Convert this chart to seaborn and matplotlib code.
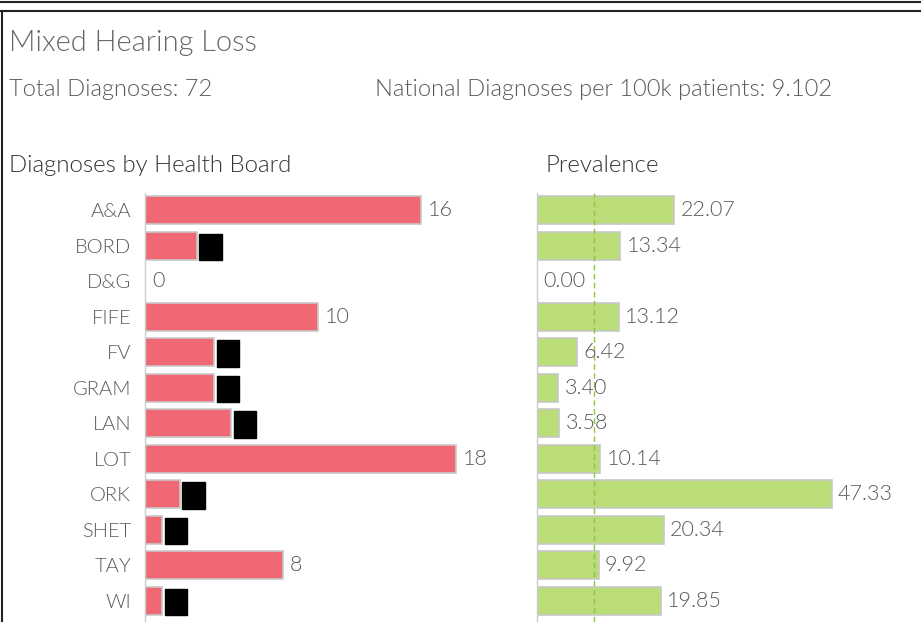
import pandas as pd
import seaborn as sns
import matplotlib.pyplot as plt
from matplotlib.lines import Line2D

boards = ['A&A', 'BORD', 'D&G', 'FIFE', 'FV', 'GRAM', 'LAN', 'LOT', 'ORK', 'SHET', 'TAY', 'WI']
diagnoses = [16, 3, 0, 10, 4, 4, 5, 18, 2, 1, 8, 1]
prevalence = [22.07, 13.34, 0.00, 13.12, 6.42, 3.40, 3.58, 10.14, 47.33, 20.34, 9.92, 19.85]
national_rate = 9.102
total_diagnoses = 72
suppress_max = 5

df = pd.DataFrame({'Board': boards, 'Diagnoses': diagnoses, 'Prevalence': prevalence})

sns.set_style('white')
plt.rcParams['font.family'] = ['Lato', 'DejaVu Sans']
wt = 300

text_col = '#595959'
W, H = 921, 622
fig = plt.figure(figsize=(W / 100, H / 100), dpi=100)

# frame lines like the dashboard container
fig.add_artist(Line2D([0, 1], [1 - 1.5 / H, 1 - 1.5 / H], color='#222222', lw=1.5))
fig.add_artist(Line2D([0, 1], [1 - 10.5 / H, 1 - 10.5 / H], color='#222222', lw=1.5))
fig.add_artist(Line2D([2 / W, 2 / W], [0, 1 - 10.5 / H], color='#222222', lw=1.5))

fig.text(9 / W, 1 - 43 / H, 'Mixed Hearing Loss', fontsize=21, color='#666666', va='center', fontweight=wt)
fig.text(9 / W, 1 - 90 / H, f'Total Diagnoses: {total_diagnoses}', fontsize=17, color=text_col,
         va='center', fontweight=wt)
fig.text(375 / W, 1 - 90 / H, f'National Diagnoses per 100k patients: {national_rate}',
         fontsize=17, color=text_col, va='center', fontweight=wt)
fig.text(9 / W, 1 - 165 / H, 'Diagnoses by Health Board', fontsize=17.3, color='#333333', va='center', fontweight=wt)
fig.text(545 / W, 1 - 165 / H, 'Prevalence', fontsize=17.3, color='#333333', va='center', fontweight=wt)

ax_top = 193
ax1 = fig.add_axes([145 / W, 0, 345 / W, 1 - ax_top / H])
ax2 = fig.add_axes([537 / W, 0, 363 / W, 1 - ax_top / H])

sns.barplot(data=df, y='Board', x='Diagnoses', orient='h', ax=ax1, color='#F06873',
            edgecolor='#c8c8c8', linewidth=1.2, width=0.79, saturation=1)
sns.barplot(data=df, y='Board', x='Prevalence', orient='h', ax=ax2, color='#BBDD77',
            edgecolor='#c8c8c8', linewidth=1.2, width=0.79, saturation=1)

ax2.axvline(national_rate, color='#8CC63F', lw=1, ls=(0, (4, 2.5)))

for ax in (ax1, ax2):
    ax.set_ylim(11.6, -0.48)
    ax.set_xlabel('')
    ax.set_ylabel('')
    ax.set_xticks([])
    for s in ['top', 'right', 'bottom']:
        ax.spines[s].set_visible(False)
    ax.spines['left'].set_color('#cccccc')
    ax.spines['left'].set_linewidth(1)

ax1.set_xlim(0, 20)
ax2.set_xlim(0, 58.3)
ax1.tick_params(axis='y', length=0, pad=10, labelsize=14.5, labelcolor=text_col)
for lab in ax1.get_yticklabels():
    lab.set_fontweight(wt)
ax2.set_yticklabels([])
ax2.tick_params(axis='y', length=0)

for i, v in enumerate(diagnoses):
    if 0 < v <= suppress_max:
        # suppressed small counts shown as black blocks
        ax1.annotate(f'{v}', (v, i), xytext=(10, -1), textcoords='offset points',
                     va='center', ha='center', fontsize=6.5, color='black',
                     bbox=dict(boxstyle='square,pad=0.95', fc='black', ec='black'))
    else:
        ax1.annotate(f'{v}', (v, i), xytext=(5, 0), textcoords='offset points',
                     va='center', ha='left', fontsize=15.5, color=text_col, fontweight=wt)

for i, v in enumerate(prevalence):
    ax2.annotate(f'{v:.2f}', (v, i), xytext=(4.5, 0), textcoords='offset points',
                 va='center', ha='left', fontsize=15.5, color=text_col, fontweight=wt)

plt.savefig('out.png', dpi=100)
plt.close()
